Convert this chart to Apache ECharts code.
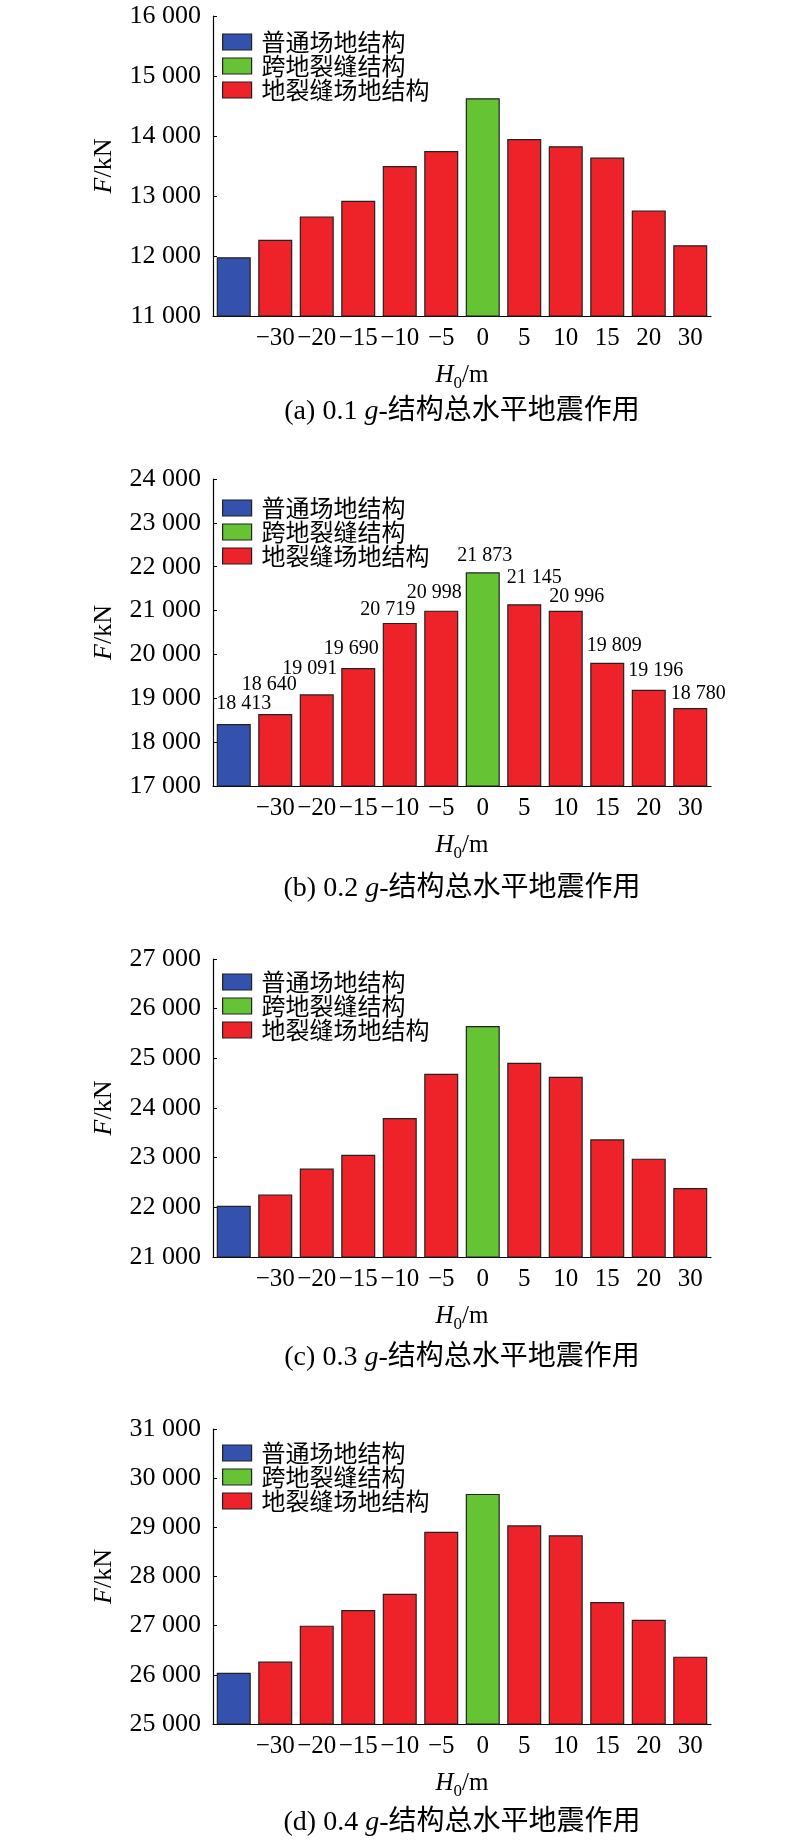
<!DOCTYPE html>
<html>
<head>
<meta charset="utf-8">
<script src="https://cdn.jsdelivr.net/npm/echarts@6/dist/echarts.min.js"></script>
<style>
html,body{margin:0;padding:0;background:#fff;}
#c{width:800px;height:1841px;}
</style>
</head>
<body>
<div id="c"></div>
<script>
// ---------------- data ----------------
const categories = ['', '−30', '−20', '−15', '−10', '−5', '0', '5', '10', '15', '20', '30'];
const seriesNames = ['普通场地结构', '跨地裂缝结构', '地裂缝场地结构'];
// which legend group each bar belongs to (0 = 普通, 1 = 跨地裂缝, 2 = 地裂缝场地)
const barGroup = [0, 2, 2, 2, 2, 2, 1, 2, 2, 2, 2, 2];
const valuesA = [11980, 12270, 12660, 12920, 13500, 13750, 14630, 13950, 13830, 13640, 12760, 12180];
const valuesB = [18413, 18640, 19091, 19690, 20719, 20998, 21873, 21145, 20996, 19809, 19196, 18780];
const valuesC = [22030, 22260, 22780, 23060, 23800, 24690, 25650, 24910, 24630, 23370, 22980, 22390];
const valuesD = [26040, 26270, 27000, 27320, 27650, 28910, 29680, 29040, 28840, 27480, 27120, 26370];
const yMins = [11000, 17000, 21000, 25000];
const yMaxs = [16000, 24000, 27000, 31000];
const yStep = 1000;
const captionTags = ['(a)', '(b)', '(c)', '(d)'];
const captionPGA = ['0.1', '0.2', '0.3', '0.4'];
const showValueLabels = [false, true, false, false];

// ---------------- layout / style ----------------
const panels = [valuesA, valuesB, valuesC, valuesD];
const gridTops = [16, 479, 959, 1429];
const gridHeights = [300, 307, 298, 295];
const legendTops = [30, 496, 970, 1441];
const titleTops = [398, 875, 1344, 1809];
const gridLeft = 213, gridRight = 89;
// hand placement nudges of the value labels in panel (b), [dx, dy] in px
const labelNudges = [[10, -5], [-6, -14], [-7, -11], [-7, -4], [-12, 2], [-7, -3],
                     [2, -2], [10, -11], [11, 1], [7, -2], [7, -4], [8, 1]];
const colors = ['#3551AE', '#66C434', '#EE232A'];
const serif = "'Liberation Serif','Times New Roman','Noto Sans CJK SC',serif";
const mixed = "'Liberation Serif','Noto Sans CJK SC',serif";

function fmt(v) { return String(v).replace(/\B(?=(\d{3})+(?!\d))/g, ' '); }

const grid = [], xAxis = [], yAxis = [], series = [], legend = [], title = [];
panels.forEach((vals, p) => {
  grid.push({ left: gridLeft, right: gridRight, top: gridTops[p], height: gridHeights[p], containLabel: false });
  xAxis.push({
    type: 'category', gridIndex: p, data: categories,
    axisLine: { show: true, lineStyle: { color: '#000', width: 1.2 } },
    axisTick: { show: true, inside: true, alignWithLabel: true, length: 5, lineStyle: { color: '#000', width: 1 } },
    axisLabel: { interval: 0, fontSize: 25, margin: 10, color: '#000', fontFamily: serif },
    splitLine: { show: false },
    name: '{i|H}{s|0}{n|/m}', nameLocation: 'middle', nameGap: 43,
    nameTextStyle: {
      color: '#000', fontSize: 25, fontFamily: serif,
      rich: {
        i: { fontSize: 25, fontStyle: 'italic', fontFamily: serif, color: '#000' },
        s: { fontSize: 17, fontFamily: serif, color: '#000', padding: [16, 0, 0, 0] },
        n: { fontSize: 25, fontFamily: serif, color: '#000' }
      }
    }
  });
  yAxis.push({
    type: 'value', gridIndex: p, min: yMins[p], max: yMaxs[p], interval: yStep,
    axisLine: { show: true, lineStyle: { color: '#000', width: 1.2 } },
    axisTick: { show: true, inside: true, length: 4, lineStyle: { color: '#000', width: 1 } },
    axisLabel: { fontSize: 26, margin: 12, color: '#000', fontFamily: serif, formatter: v => fmt(v) },
    splitLine: { show: false },
    name: '{i|F}{n|/kN}', nameLocation: 'middle', nameGap: 96,
    nameTextStyle: {
      color: '#000', fontSize: 26, fontFamily: serif,
      rich: {
        i: { fontSize: 26, fontStyle: 'italic', fontFamily: serif, color: '#000' },
        n: { fontSize: 26, fontFamily: serif, color: '#000' }
      }
    }
  });
  seriesNames.forEach((nm, g) => {
    series.push({
      type: 'bar', name: nm, xAxisIndex: p, yAxisIndex: p,
      data: vals.map((v, i) => barGroup[i] === g
        ? { value: v, label: { offset: labelNudges[i] } }
        : '-'),
      barWidth: '82%', barGap: '-100%',
      itemStyle: { color: colors[g], borderColor: '#222', borderWidth: 1.2 },
      label: {
        show: showValueLabels[p], position: 'top', distance: 5,
        fontSize: 20, fontFamily: serif, color: '#000',
        formatter: prm => fmt(prm.value)
      },
      emphasis: { disabled: true }
    });
  });
  legend.push({
    orient: 'vertical', left: 222, top: legendTops[p], padding: 0,
    itemWidth: 29, itemHeight: 16, itemGap: 0, icon: 'rect',
    selectedMode: false,
    data: seriesNames,
    itemStyle: { borderColor: '#222', borderWidth: 1.2 },
    textStyle: { fontSize: 24, fontFamily: "'Noto Sans CJK SC',sans-serif", color: '#000', padding: [0, 0, 0, 5] }
  });
  title.push({
    text: '{n|' + captionTags[p] + ' ' + captionPGA[p] + ' }{i|g}{n|-结构总水平地震作用}',
    left: gridLeft + (800 - gridLeft - gridRight) / 2, top: titleTops[p], textAlign: 'center', padding: 0,
    textStyle: {
      fontSize: 28, fontWeight: 'normal', color: '#000', fontFamily: mixed,
      rich: {
        n: { fontSize: 28, fontWeight: 'normal', fontFamily: mixed, color: '#000' },
        i: { fontSize: 28, fontWeight: 'normal', fontStyle: 'italic', fontFamily: serif, color: '#000' }
      }
    }
  });
});

const chart = echarts.init(document.getElementById('c'));
chart.setOption({
  animation: false,
  backgroundColor: '#fff',
  title, legend, grid, xAxis, yAxis, series
});
</script>
</body>
</html>
